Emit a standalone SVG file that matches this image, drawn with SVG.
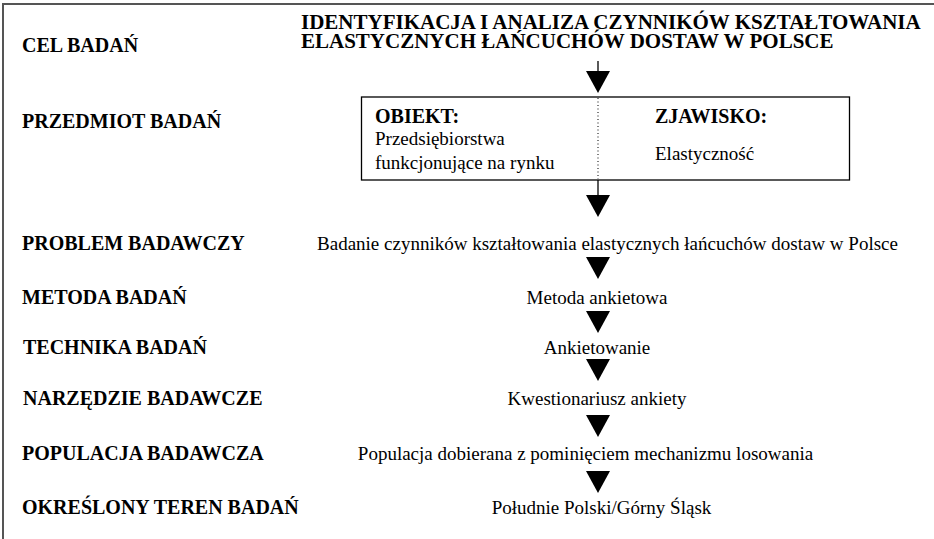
<svg xmlns="http://www.w3.org/2000/svg" xmlns:xlink="http://www.w3.org/1999/xlink" width="934" height="539" viewBox="0 0 934 539">
<style>
text{font-family:'Liberation Serif','Times New Roman',Times,Tinos,'DejaVu Serif',serif;fill:#000}
.lbl{font-weight:bold;font-size:20px}
.ttl{font-weight:bold;font-size:21px}
.val{font-weight:normal;font-size:19px}
.mid{text-anchor:middle}
.frame{fill:none;stroke:#555;stroke-width:2}
.box{fill:#fff;stroke:#000;stroke-width:1.3}
.dot{stroke:#000;stroke-width:1;stroke-dasharray:1 2.5;fill:none}
.stem{stroke:#000;stroke-width:1.3;fill:none}
.tri{fill:#000}
</style>
<defs>
<polygon id="ah" class="tri" points="-12,0 12,0 0,22"/>
</defs>
<rect width="934" height="539" fill="#fff"/>
<path class="frame" d="M3,539 V4 H934"/>

<g id="cel" font-family="Liberation Serif, serif">
<text class="lbl" x="22" y="52">CEL BADAŃ</text>
<text class="ttl" x="301" y="29">IDENTYFIKACJA I ANALIZA CZYNNIKÓW KSZTAŁTOWANIA</text>
<text class="ttl" x="301" y="48">ELASTYCZNYCH ŁAŃCUCHÓW DOSTAW W POLSCE</text>
</g>

<g id="przedmiot">
<text class="lbl" x="22" y="128">PRZEDMIOT BADAŃ</text>
<rect class="box" x="361.5" y="97" width="488" height="83"/>
<line class="dot" x1="598" y1="98" x2="598" y2="179"/>
<text class="lbl" x="375" y="123">OBIEKT:</text>
<text class="val" x="375" y="145">Przedsiębiorstwa</text>
<text class="val" x="375" y="169">funkcjonujące na rynku</text>
<text class="lbl" x="655" y="123">ZJAWISKO:</text>
<text class="val" x="655" y="160">Elastyczność</text>
</g>

<g id="problem">
<text class="lbl" x="22" y="250">PROBLEM BADAWCZY</text>
<text class="val mid" x="607.5" y="250">Badanie czynników kształtowania elastycznych łańcuchów dostaw w Polsce</text>
</g>

<g id="metoda">
<text class="lbl" x="22" y="304">METODA BADAŃ</text>
<text class="val mid" x="597" y="304">Metoda ankietowa</text>
</g>

<g id="technika">
<text class="lbl" x="23" y="354">TECHNIKA BADAŃ</text>
<text class="val mid" x="597" y="354">Ankietowanie</text>
</g>

<g id="narzedzie">
<text class="lbl" x="23" y="405">NARZĘDZIE BADAWCZE</text>
<text class="val mid" x="597" y="405">Kwestionariusz ankiety</text>
</g>

<g id="populacja">
<text class="lbl" x="22" y="460">POPULACJA BADAWCZA</text>
<text class="val mid" x="585.5" y="460">Populacja dobierana z pominięciem mechanizmu losowania</text>
</g>

<g id="teren">
<text class="lbl" x="22" y="514">OKREŚLONY TEREN BADAŃ</text>
<text class="val mid" x="601.5" y="514">Południe Polski/Górny Śląsk</text>
</g>

<g id="connectors">
<line class="stem" x1="598" y1="61" x2="598" y2="72"/>
<use xlink:href="#ah" x="598" y="71"/>
<line class="stem" x1="598" y1="180" x2="598" y2="196"/>
<use xlink:href="#ah" x="598" y="195"/>
<use xlink:href="#ah" x="598" y="257"/>
<use xlink:href="#ah" x="598" y="311"/>
<use xlink:href="#ah" x="598" y="359"/>
<use xlink:href="#ah" x="598" y="415"/>
<use xlink:href="#ah" x="598" y="471"/>
</g>
</svg>
